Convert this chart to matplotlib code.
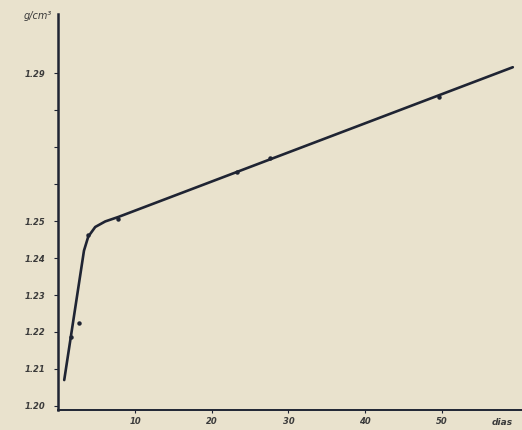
import numpy as np
import matplotlib.pyplot as plt

# curva trazada (dias, g/cm3)
curve_x = [0.72, 3.3, 3.86, 4.77, 6.08, 7.78, 59.3]
curve_y = [1.2070, 1.2420, 1.2458, 1.2484, 1.2499, 1.2511, 1.2916]

# puntos medidos
pts_x = [1.63, 2.68, 3.86, 7.78, 23.3, 27.6, 49.6]
pts_y = [1.2186, 1.2224, 1.2462, 1.2505, 1.2632, 1.2670, 1.2835]

x_ticks = [10, 20, 30, 40, 50]
y_ticks = [1.20, 1.21, 1.22, 1.23, 1.24, 1.25, 1.26, 1.27, 1.28, 1.29]
y_labels = ["1.20", "1.21", "1.22", "1.23", "1.24", "1.25", "", "", "", "1.29"]

bg = "#e9e2cd"
ink = "#1f2433"

fig = plt.figure(figsize=(5.22, 4.30), dpi=100, facecolor=bg)
ax = fig.add_axes([0.111, 0.0465, 0.889, 0.921], facecolor=bg)

ax.plot(curve_x, curve_y, color=ink, lw=1.9, solid_capstyle="round")
ax.plot(pts_x, pts_y, "o", color=ink, ms=2.2)

ax.set_xlim(-0.1, 60.5)
ax.set_ylim(1.1989, 1.306)

ax.set_xticks(x_ticks)
ax.set_xticklabels([str(t) for t in x_ticks], fontsize=6, style="italic",
                   color="#3a3a3a", fontweight="bold")
ax.set_yticks(y_ticks)
ax.set_yticklabels(y_labels, fontsize=6, style="italic", color="#3a3a3a",
                   fontweight="bold")
ax.tick_params(axis="y", length=3, width=0.8, color=ink, pad=6)
ax.tick_params(axis="x", length=2, width=0.8, color=ink, pad=3)

for s in ["top", "right"]:
    ax.spines[s].set_visible(False)
ax.spines["left"].set_linewidth(1.8)
ax.spines["bottom"].set_linewidth(1.4)
ax.spines["left"].set_color(ink)
ax.spines["bottom"].set_color(ink)

fig.text(0.045, 0.955, "g/cm³", fontsize=7, style="italic", color="#3a3a3a")
fig.text(0.962, 0.012, "dias", fontsize=6.5, style="italic", color="#3a3a3a",
         fontweight="bold", ha="center")

fig.savefig("out.png", dpi=100, facecolor=bg)
